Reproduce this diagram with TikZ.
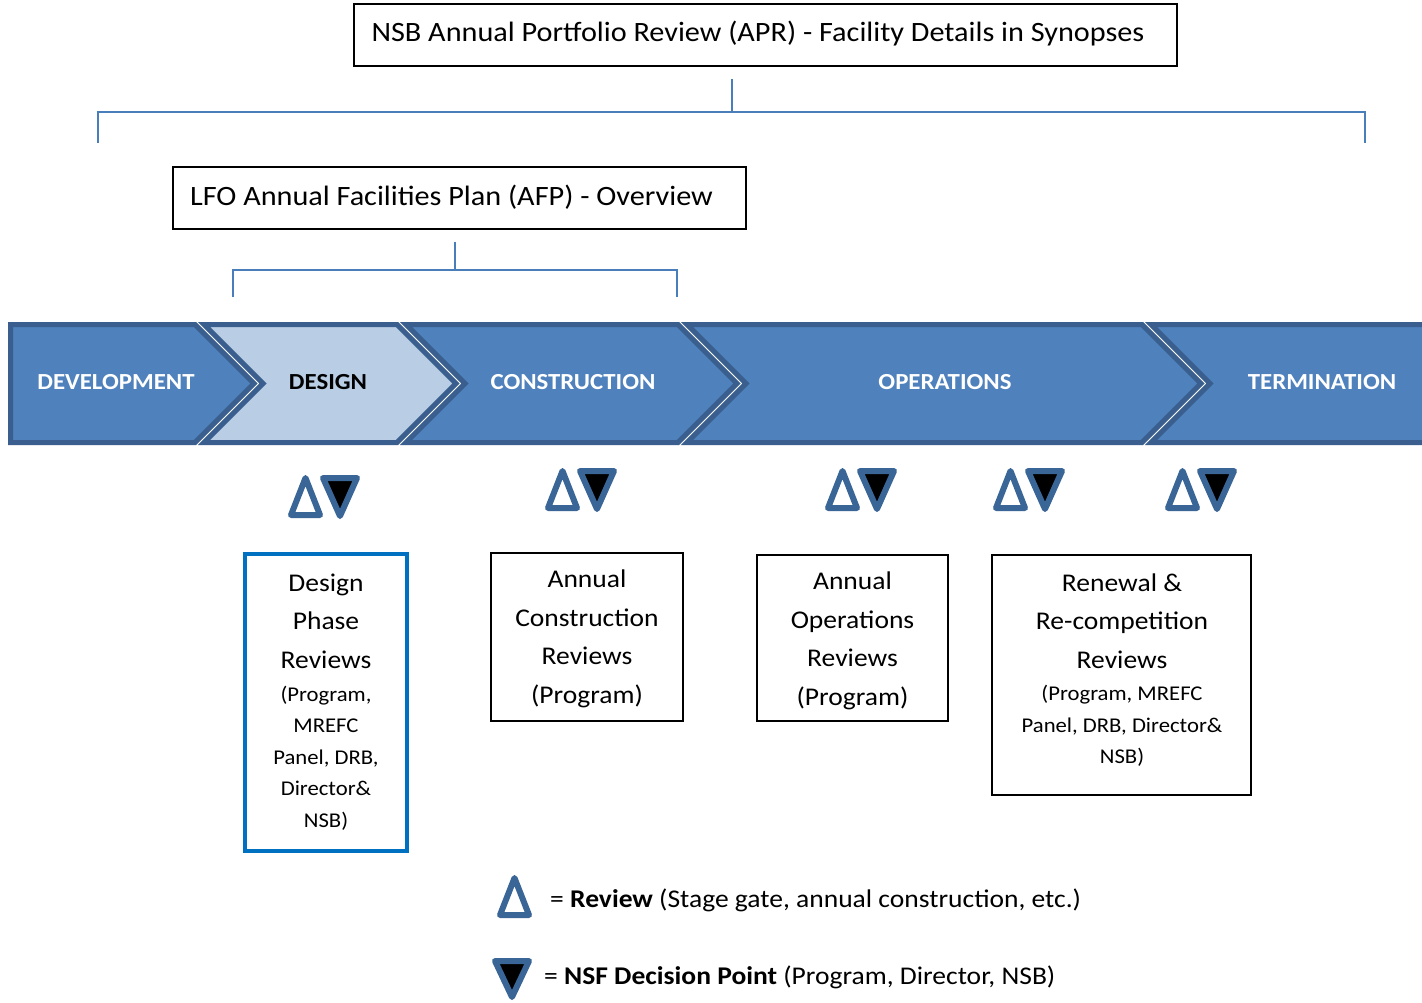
\documentclass[tikz,border=0pt]{standalone}
\usepackage{fontspec}
\setmainfont{Carlito}[FakeStretch=1.08]
\definecolor{brk}{HTML}{4A7EBB}
\definecolor{chevfill}{HTML}{4F81BD}
\definecolor{chevline}{HTML}{3A5F8E}
\definecolor{designfill}{HTML}{B9CDE5}
\definecolor{tri}{HTML}{3A6597}
\definecolor{dbox}{HTML}{0070C0}
\newcommand\revpair[2]{%
  \draw[tristyle] (#1+3,#2+40) -- (#1+17.5,#2+3) -- (#1+32,#2+40) -- cycle;
  \draw[tristyle,fill=black] (#1+35,#2+3) -- (#1+69,#2+3) -- (#1+52,#2+41) -- cycle;}
\begin{document}
\begin{tikzpicture}[x=1pt,y=-1pt,
  bracket/.style={draw=brk,line width=2.2pt},
  topbox/.style={draw=black,line width=2.2pt,inner sep=0pt},
  revbox/.style={draw=black,line width=2.2pt,inner sep=0pt},
  chev/.style={fill=chevfill,draw=chevline,line width=5pt,line join=miter},
  chevtext/.style={font=\bfseries\fontsize{23}{28}\selectfont,text=white},
  big/.style={font=\fontsize{25.5}{38.5}\selectfont,align=center,inner sep=0pt},
  small/.style={font=\fontsize{21}{31.5}\selectfont,align=center,inner sep=0pt},
  tristyle/.style={draw=tri,line width=6pt,line join=round},
  legtext/.style={font=\fontsize{25.5}{30}\selectfont,anchor=west,inner sep=0pt}]
\useasboundingbox (0,0) rectangle (1422,1003);
\fill[white] (0,0) rectangle (1422,1003);

% top boxes
\node[topbox,minimum width=823pt,minimum height=62pt] (apr) at (765.5,35) {};
\node[font=\fontsize{28}{32}\selectfont] (aprt) at (758,34) {NSB Annual Portfolio Review (APR) - Facility Details in Synopses};
\node[topbox,minimum width=573pt,minimum height=62pt] (afp) at (459.5,198) {};
\node[font=\fontsize{28}{32}\selectfont] (afpt) at (451.5,197) {LFO Annual Facilities Plan (AFP) - Overview};

% brackets
\coordinate (b1t) at (732,79);
\coordinate (b1m) at (732,112);
\coordinate (b1l) at (98,143);
\coordinate (b1r) at (1365,143);
\draw[bracket] (b1t) -- (b1m);
\draw[bracket] (b1l) |- (b1m) -| (b1r);
\coordinate (b2t) at (455,242);
\coordinate (b2m) at (455,270);
\coordinate (b2l) at (233,297);
\coordinate (b2r) at (677,297);
\draw[bracket] (b2t) -- (b2m);
\draw[bracket] (b2l) |- (b2m) -| (b2r);

% chevrons
\draw[chev] (10.5,324.5) -- (195,324.5) -- (254,383.5) -- (195,442.5) -- (10.5,442.5) -- cycle;
\draw[chev,fill=designfill] (204,324.5) -- (397,324.5) -- (456,383.5) -- (397,442.5) -- (204,442.5) -- (263,383.5) -- cycle;
\draw[chev] (406,324.5) -- (678,324.5) -- (737,383.5) -- (678,442.5) -- (406,442.5) -- (465,383.5) -- cycle;
\draw[chev] (687,324.5) -- (1142,324.5) -- (1201,383.5) -- (1142,442.5) -- (687,442.5) -- (746,383.5) -- cycle;
\draw[chev] (1151,324.5) -- (1430,324.5) -- (1430,442.5) -- (1151,442.5) -- (1210,383.5) -- cycle;
\node[chevtext] (dev) at (116,382) {DEVELOPMENT};
\node[chevtext,text=black] (des) at (328,382) {DESIGN};
\node[chevtext] (con) at (573,382) {CONSTRUCTION};
\node[chevtext] (ops) at (945,382) {OPERATIONS};
\node[chevtext] (ter) at (1322,382) {TERMINATION};

% review / decision pairs
\revpair{288}{475}
\revpair{545}{468}
\revpair{825}{468}
\revpair{993}{468}
\revpair{1165}{468}

% review boxes
\node[draw=dbox,line width=4.5pt,minimum width=162pt,minimum height=297pt,inner sep=0pt] (dbx) at (326,702.5) {};
\node[big] (dbig) at (326,621) {Design\\Phase\\Reviews};
\node[small] (dsm) at (326,758) {(Program,\\MREFC\\Panel, DRB,\\Director\&\\NSB)};

\node[revbox,minimum width=192pt,minimum height=168pt] (cbx) at (587,637) {};
\node[big] (cbig) at (587,639) {Annual\\Construction\\Reviews\\(Program)};

\node[revbox,minimum width=191pt,minimum height=166pt] (obx) at (852.5,638) {};
\node[big] (obig) at (852.5,641) {Annual\\Operations\\Reviews\\(Program)};

\node[revbox,minimum width=259pt,minimum height=240pt] (rbx) at (1121.5,675) {};
\node[big] (rbig) at (1122,621) {Renewal \&\\Re-competition\\Reviews};
\node[small] (rsm) at (1122,726) {(Program, MREFC\\Panel, DRB, Director\&\\NSB)};

% legend
\draw[tristyle] (500,915) -- (514.5,878) -- (529,915) -- cycle;
\node[legtext] (l1) at (550,900) {= \textbf{Review} (Stage gate, annual construction, etc.)};
\draw[tristyle,fill=black] (495,961) -- (529,961) -- (512,997) -- cycle;
\node[legtext] (l2) at (544,977) {= \textbf{NSF Decision Point} (Program, Director, NSB)};
\end{tikzpicture}
\end{document}
